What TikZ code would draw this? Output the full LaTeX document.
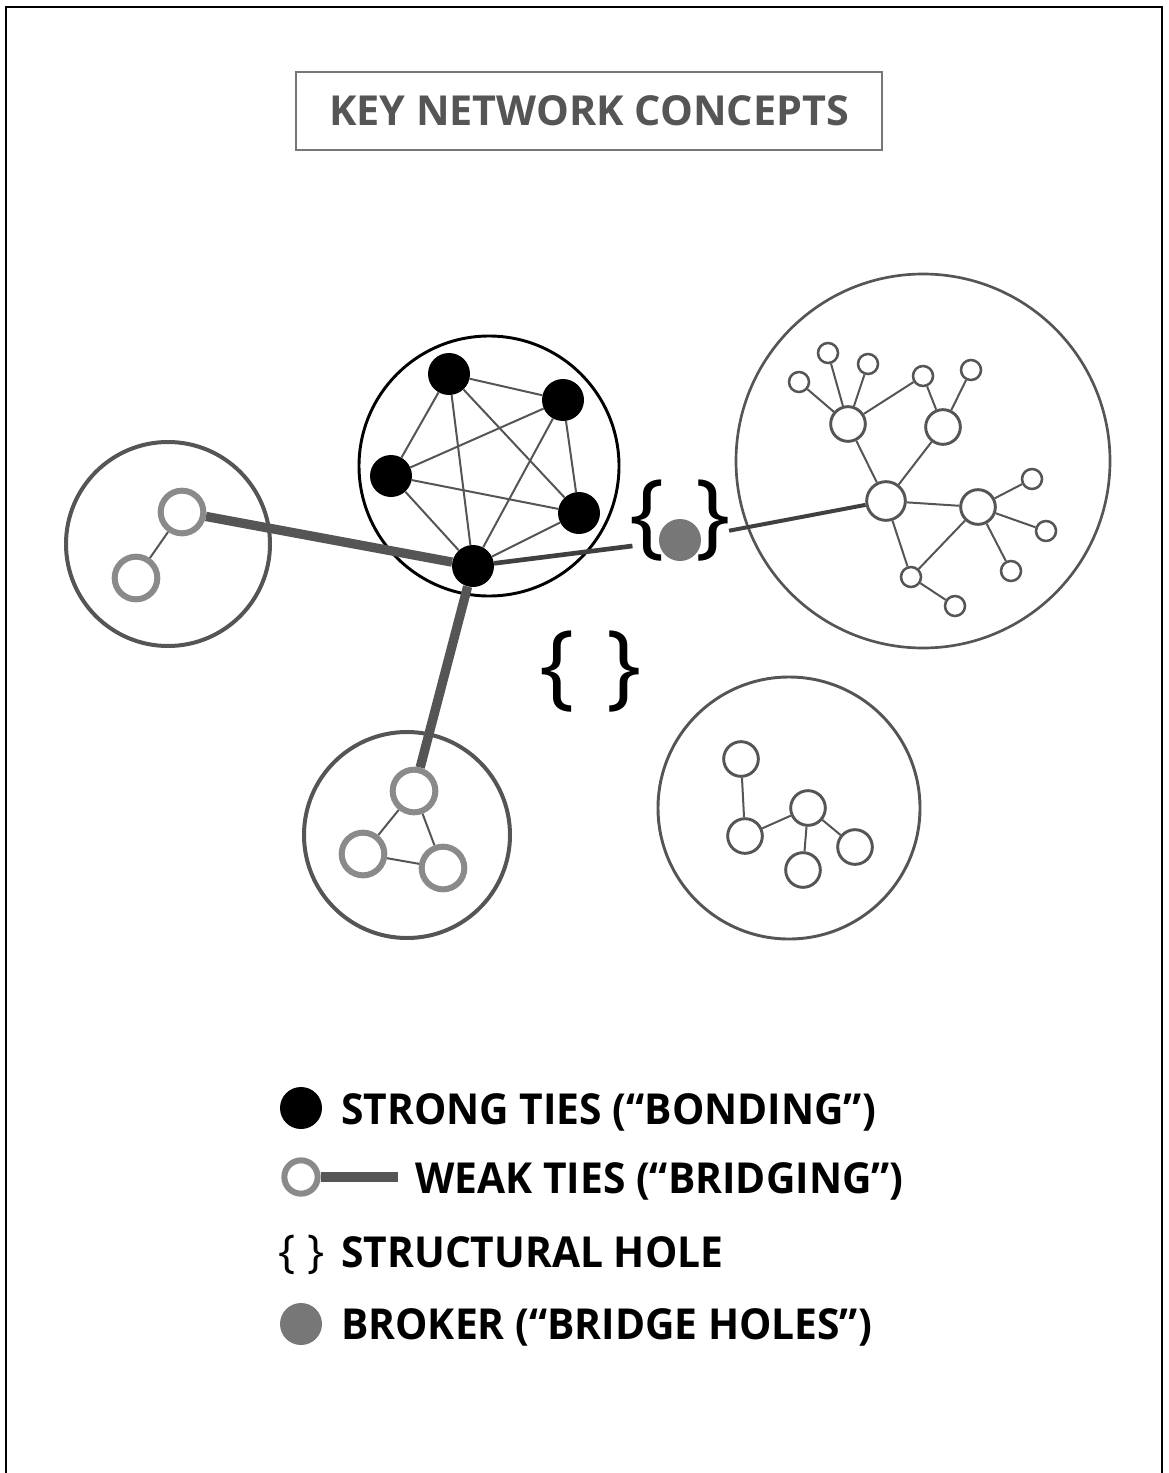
\documentclass[tikz,border=0pt]{standalone}
\usepackage{fontspec}
\setmainfont{Open Sans}
\newfontfamily\legendfont[FakeStretch=0.955]{Open Sans}
\usetikzlibrary{backgrounds}
\definecolor{gA}{HTML}{555555}
\definecolor{gB}{HTML}{8A8A8A}
\definecolor{gC}{HTML}{777777}
\definecolor{gD}{HTML}{404040}
\begin{document}
\begin{tikzpicture}[x=0.75pt,y=-0.75pt,
  cluster/.style={circle, draw=gA, line width=2.4pt, inner sep=0pt},
  strong/.style={circle, fill=black, inner sep=0pt, minimum size=31.5pt},
  brokerdot/.style={circle, fill=gC, inner sep=0pt, minimum size=31.5pt},
  weak/.style={circle, draw=gB, line width=4.5pt, fill=white, inner sep=0pt, minimum size=32pt},
  bigring/.style={circle, draw=gA, line width=2.2pt, fill=white, inner sep=0pt, minimum size=29pt},
  midring/.style={circle, draw=gA, line width=2.2pt, fill=white, inner sep=0pt, minimum size=26pt},
  smallring/.style={circle, draw=gA, line width=1.9pt, fill=white, inner sep=0pt, minimum size=15pt},
  thin/.style={draw=gA, line width=1.5pt},
  weaktie/.style={draw=gA, line width=7pt},
  brokertie/.style={draw=gD, line width=3.5pt},
  bracetxt/.style={inner sep=0pt, text=black},
  legendtxt/.style={anchor=base west, inner sep=0pt, font=\legendfont\fontsize{32}{38}\selectfont\bfseries}
]
\useasboundingbox (0,0) rectangle (1168,1473);
% page frame
\draw[line width=2.2pt] (6,1473) -- (6,7) -- (1162,7) -- (1162,1473);

% title
\node[draw=gC, line width=1.5pt, minimum width=439.5pt, minimum height=58.5pt, inner sep=0pt,
      text=gA, font=\fontsize{31}{36}\selectfont\bfseries] (title) at (589,111) {KEY NETWORK CONCEPTS};

% central strong cluster
\node[strong] (A) at (449,374) {};
\node[strong] (B) at (563,400) {};
\node[strong] (C) at (391,476) {};
\node[strong] (D) at (579,513) {};
\node[strong] (E) at (473,566) {};

% broker
\node[brokerdot] (brk) at (680,540) {};
\node[bracetxt, font=\fontsize{70}{80}\selectfont] (bl1) at (647,521) {\{};
\node[bracetxt, font=\fontsize{70}{80}\selectfont] (br1) at (713,521) {\}};
\node[bracetxt, font=\fontsize{70}{80}\selectfont] (bl2) at (557,672) {\{};
\node[bracetxt, font=\fontsize{70}{80}\selectfont] (br2) at (624,672) {\}};

% left cluster
\node[weak] (L1) at (182,512) {};
\node[weak] (L2) at (136,578) {};

% bottom cluster
\node[weak] (B1) at (414,791) {};
\node[weak] (B2) at (363,854) {};
\node[weak] (B3) at (443,868) {};

% right cluster
\node[bigring] (H) at (886,501) {};
\node[midring] (H1) at (848,424) {};
\node[midring] (H2) at (943,427) {};
\node[midring] (H3) at (978,507) {};
\node[smallring] (s1) at (799,382) {};
\node[smallring] (s2) at (828,353) {};
\node[smallring] (s3) at (868,364) {};
\node[smallring] (s4) at (923,376) {};
\node[smallring] (s5) at (971,370) {};
\node[smallring] (s6) at (1032,479) {};
\node[smallring] (s7) at (1046,531) {};
\node[smallring] (s8) at (1011,571) {};
\node[smallring] (s9) at (911,577) {};
\node[smallring] (s10) at (955,606) {};

% bottom-right cluster
\node[midring] (n1) at (741,759) {};
\node[midring] (n2) at (745,836) {};
\node[midring] (n3) at (808,808) {};
\node[midring] (n4) at (803,870) {};
\node[midring] (n5) at (855,847) {};

\begin{scope}[on background layer]
  \node[cluster, draw=black, line width=2.2pt, minimum size=195pt] (cC) at (489,466) {};
  \node[cluster, line width=3pt, minimum size=153pt] (cL) at (168,544) {};
  \node[cluster, line width=3pt, minimum size=154.5pt] (cB) at (407,835) {};
  \node[cluster, line width=2pt, minimum size=280.5pt] (cR) at (923,461) {};
  \node[cluster, line width=2.2pt, minimum size=196.5pt] (cBR) at (789,808) {};

  \foreach \a/\b in {A/B,A/C,A/D,A/E,B/C,B/D,B/E,C/D,C/E,D/E}
    \draw[thin] (\a) -- (\b);
  \draw[thin] (L1) -- (L2);
  \draw[thin] (B1) -- (B2);
  \draw[thin] (B1) -- (B3);
  \draw[thin] (B2) -- (B3);
  \foreach \a/\b in {H1/s1,H1/s2,H1/s3,H1/s4,H2/s4,H2/s5,H/H1,H/H2,H/H3,H/s9,H3/s6,H3/s7,H3/s8,H3/s9,s9/s10}
    \draw[thin] (\a) -- (\b);
  \foreach \a/\b in {n1/n2,n2/n3,n3/n4,n3/n5}
    \draw[thin] (\a) -- (\b);

  \draw[weaktie] (E) -- (L1);
  \draw[weaktie] (E) -- (B1);
  \draw[brokertie, shorten >=20pt] (E) -- (brk);
  \draw[brokertie, line width=3pt, shorten <=21.5pt] (brk) -- (H);
\end{scope}

% legend
\node[strong] (lg1) at (301,1108) {};
\node[legendtxt] (lt1) at (341,1124) {STRONG TIES (“BONDING”)};
\node[weak, minimum size=25pt] (lg2) at (301,1177) {};
\coordinate (lg2e) at (398,1177);
\begin{scope}[on background layer]
  \draw[weaktie] (lg2) -- (lg2e);
\end{scope}
\node[legendtxt] (lt2) at (415,1193) {WEAK TIES (“BRIDGING”)};
\node[bracetxt, font=\fontsize{34}{40}\selectfont] (lg3a) at (287,1255) {\{};
\node[bracetxt, font=\fontsize{34}{40}\selectfont] (lg3b) at (316,1255) {\}};
\node[legendtxt] (lt3) at (341,1267) {STRUCTURAL HOLE};
\node[brokerdot] (lg4) at (301,1324) {};
\node[legendtxt] (lt4) at (341,1339) {BROKER (“BRIDGE HOLES”)};
\end{tikzpicture}
\end{document}
